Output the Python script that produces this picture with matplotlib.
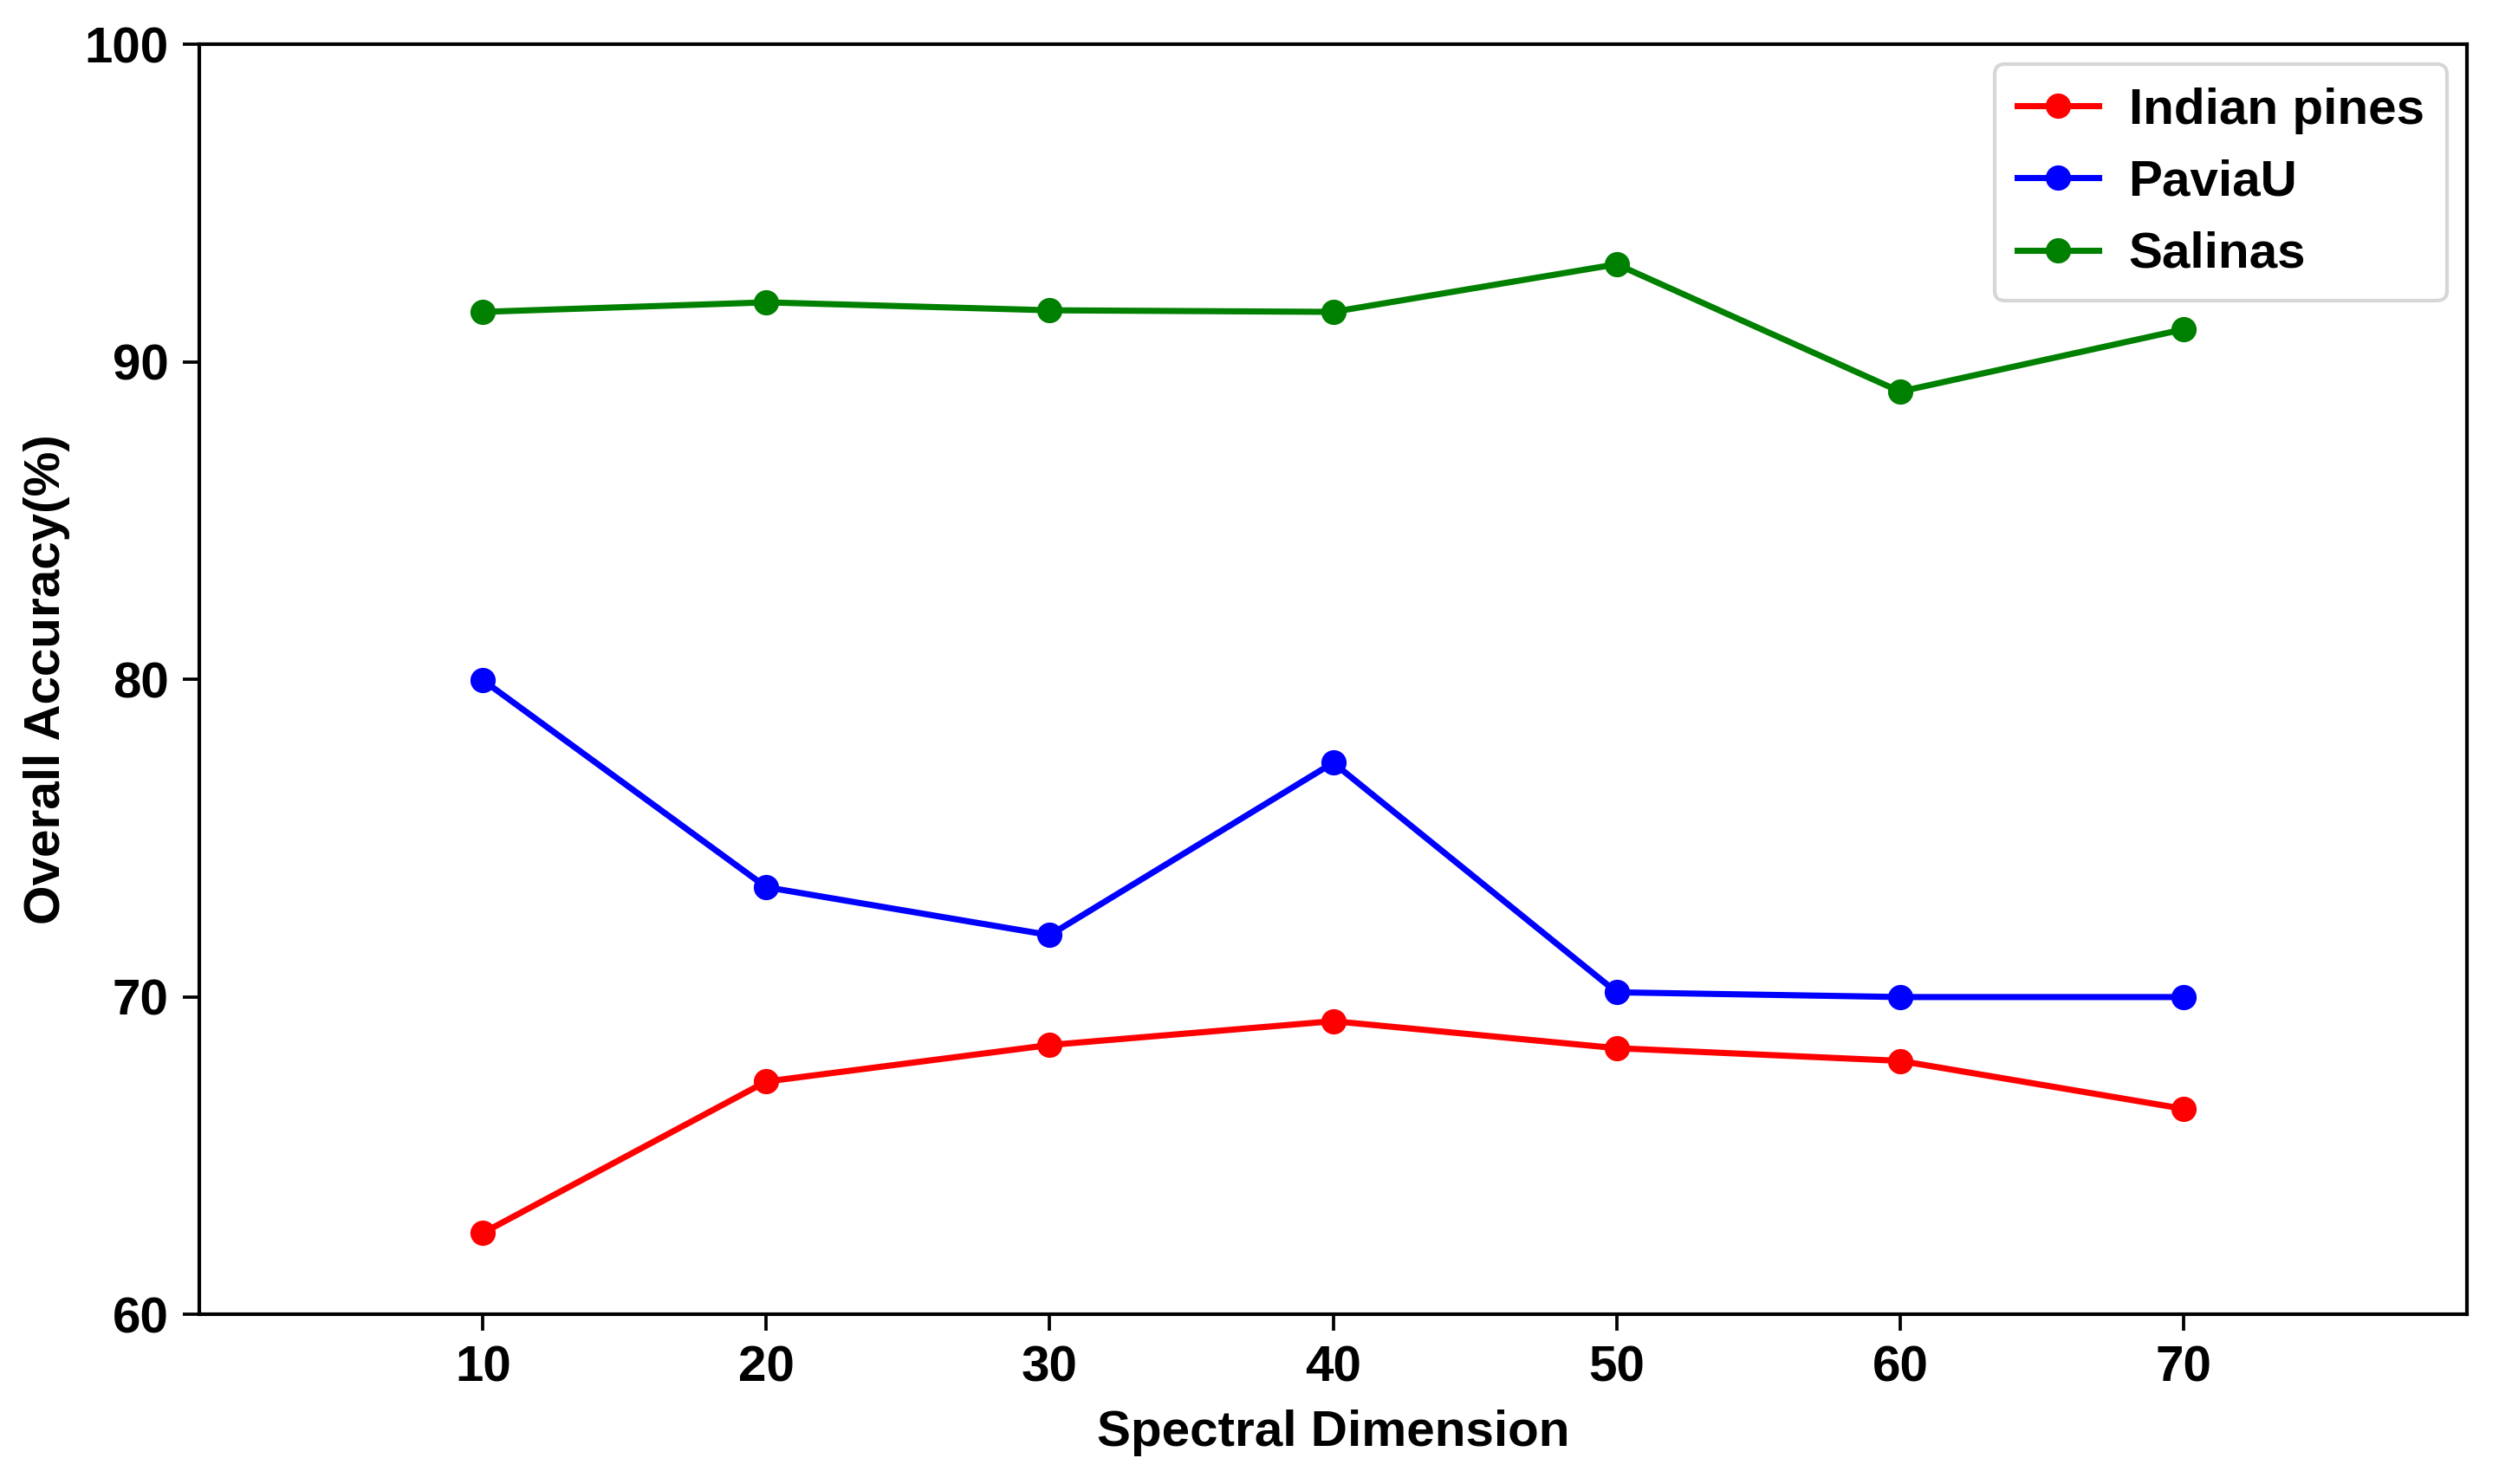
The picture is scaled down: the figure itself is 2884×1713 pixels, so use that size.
import matplotlib
matplotlib.use('Agg')
import matplotlib.pyplot as plt

# 光谱维度 vs 总体精度
dims = [10, 20, 30, 40, 50, 60, 70]
indian_pines = [62.56, 67.33, 68.48, 69.23, 68.38, 67.98, 66.47]
paviau = [79.97, 73.45, 71.94, 77.37, 70.14, 69.99, 69.99]
salinas = [91.57, 91.87, 91.62, 91.57, 93.07, 89.06, 91.02]

plt.rcParams['font.family'] = ['Liberation Sans', 'DejaVu Sans']
plt.rcParams['font.weight'] = 'bold'
plt.rcParams['font.size'] = 14

fig = plt.figure(figsize=(2884 / 300, 1713 / 300), dpi=300)
ax = fig.add_axes([0.0798, 0.1144, 0.9074, 0.8558])

ax.plot(dims, indian_pines, color='red', marker='o', lw=1.7, ms=6, label='Indian pines')
ax.plot(dims, paviau, color='blue', marker='o', lw=1.7, ms=6, label='PaviaU')
ax.plot(dims, salinas, color='green', marker='o', lw=1.7, ms=6, label='Salinas')

ax.set_xlim(0, 80)
ax.set_ylim(60, 100)
ax.set_xticks(dims)
ax.set_yticks([60, 70, 80, 90, 100])
ax.tick_params(length=4.5, width=0.9, pad=4)
for s in ax.spines.values():
    s.set_linewidth(1.0)

ax.set_xlabel('Spectral Dimension', fontweight='bold', labelpad=5)
ax.set_ylabel('Overall Accuracy(%)', fontweight='bold', labelpad=4)

ax.legend(loc='upper right', handlelength=1.6, handletextpad=0.6,
          labelspacing=0.5, borderaxespad=0.4, borderpad=0.45)

fig.savefig('out.png', dpi=300)
